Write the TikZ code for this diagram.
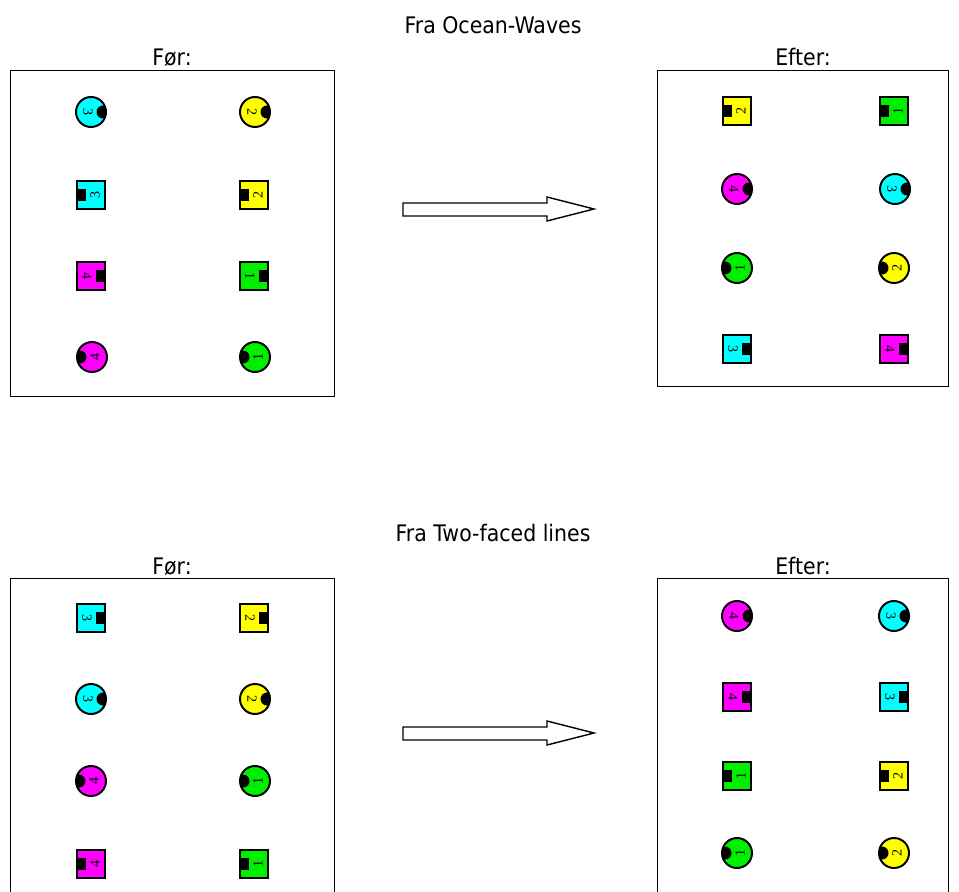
\documentclass[tikz,border=0pt]{standalone}
\usepackage{fontspec}
\setmainfont{DejaVu Sans}[FakeStretch=0.9]
\newfontfamily\talfont{Liberation Serif}
\usepackage{xcolor}
\usetikzlibrary{positioning}
\definecolor{turkis}{RGB}{0,255,255}
\definecolor{gul}{RGB}{255,255,0}
\definecolor{lilla}{RGB}{255,0,255}
\definecolor{groen}{RGB}{0,238,0}

\tikzset{
  kant/.style={black, line width=1.4pt},
  ramme/.style={black, line width=0.6pt},
  pil/.style={black, line width=1pt},
  tal/.style={font=\talfont\fontsize{10}{10}\selectfont, inner sep=0pt},
  overskrift/.style={font=\fontsize{16.2}{18}\selectfont, anchor=base, inner sep=0pt}
}

% dame: navn, position, farve, nummer, retning (0 = hoejre, 180 = venstre)
\newcommand{\dame}[5]{%
  \begin{scope}[shift={#2}]
    \begin{scope}
      \clip (0,0) circle (15);
      \fill[#3] (0,0) circle (15);
      \fill[black] (#5:12) circle (6.5);
    \end{scope}
    \draw[kant] (0,0) circle (15);
    \node[tal, rotate=#5-90] (#1) at (#5+180:3) {#4};
  \end{scope}}

% herre: navn, position, farve, nummer, retning
\newcommand{\herre}[5]{%
  \begin{scope}[shift={#2}]
    \filldraw[kant, fill=#3] (-14,-14) rectangle (14,14);
    \fill[black, rotate=#5] (5,-6) rectangle (14,6);
    \node[tal, rotate=#5-90] (#1) at (#5+180:4) {#4};
  \end{scope}}

\begin{document}
\begin{tikzpicture}[x=0.025cm, y=-0.025cm]
  \useasboundingbox (0,0) rectangle (959,892);

  % Ocean-Waves
  \node[overskrift] (titel1) at (493,34) {Fra Ocean-Waves};
  \node[overskrift] (foer1) at (172,66) {Før:};
  \node[overskrift] (efter1) at (803,66) {Efter:};
  \draw[ramme] (10,70) rectangle (334,396);
  \draw[ramme] (657,70) rectangle (948,386);

  \dame{a1}{(91,112)}{turkis}{3}{0}
  \dame{a2}{(255,112)}{gul}{2}{0}
  \herre{a3}{(91,195)}{turkis}{3}{180}
  \herre{a4}{(254,195)}{gul}{2}{180}
  \herre{a5}{(91,276)}{lilla}{4}{0}
  \herre{a6}{(254,276)}{groen}{1}{0}
  \dame{a7}{(92,357)}{lilla}{4}{180}
  \dame{a8}{(255,357)}{groen}{1}{180}

  \herre{b1}{(737,111)}{gul}{2}{180}
  \herre{b2}{(894,111)}{groen}{1}{180}
  \dame{b3}{(737,189)}{lilla}{4}{0}
  \dame{b4}{(895,189)}{turkis}{3}{0}
  \dame{b5}{(737,268)}{groen}{1}{180}
  \dame{b6}{(894,268)}{gul}{2}{180}
  \herre{b7}{(737,349)}{turkis}{3}{0}
  \herre{b8}{(894,349)}{lilla}{4}{0}

  \draw[pil] (403,203) -- (547,203) -- (547,197) -- (594,209)
    -- (547,221) -- (547,216) -- (403,216) -- cycle;

  % Two-faced lines
  \node[overskrift] (titel2) at (493,541) {Fra Two-faced lines};
  \node[overskrift] (foer2) at (172,574) {Før:};
  \node[overskrift] (efter2) at (803,574) {Efter:};
  \draw[ramme] (10,892) -- (10,578) -- (334,578) -- (334,892);
  \draw[ramme] (657,892) -- (657,578) -- (948,578) -- (948,892);

  \herre{c1}{(91,618)}{turkis}{3}{0}
  \herre{c2}{(254,618)}{gul}{2}{0}
  \dame{c3}{(91,699)}{turkis}{3}{0}
  \dame{c4}{(255,699)}{gul}{2}{0}
  \dame{c5}{(91,781)}{lilla}{4}{180}
  \dame{c6}{(255,781)}{groen}{1}{180}
  \herre{c7}{(91,864)}{lilla}{4}{180}
  \herre{c8}{(254,864)}{groen}{1}{180}

  \dame{d1}{(737,616)}{lilla}{4}{0}
  \dame{d2}{(894,616)}{turkis}{3}{0}
  \herre{d3}{(737,697)}{lilla}{4}{0}
  \herre{d4}{(894,697)}{turkis}{3}{0}
  \herre{d5}{(737,776)}{groen}{1}{180}
  \herre{d6}{(894,776)}{gul}{2}{180}
  \dame{d7}{(737,853)}{groen}{1}{180}
  \dame{d8}{(894,853)}{gul}{2}{180}

  \draw[pil] (403,727) -- (547,727) -- (547,721) -- (594,733)
    -- (547,745) -- (547,740) -- (403,740) -- cycle;
\end{tikzpicture}
\end{document}
